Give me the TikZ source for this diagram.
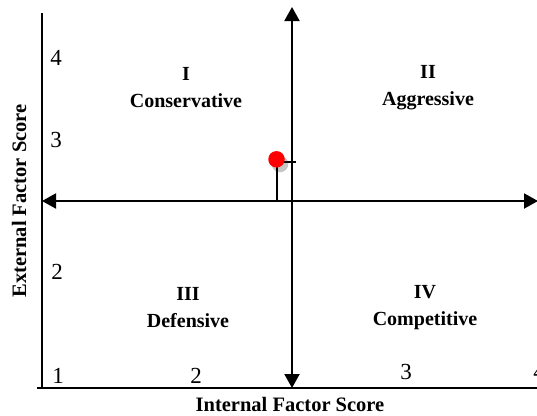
\documentclass[tikz,border=0pt]{standalone}
\usepackage{fontspec}
\setmainfont{Liberation Serif}
\usetikzlibrary{arrows.meta}
\begin{document}
\begin{tikzpicture}[x=1pt,y=-1pt,
  axis/.style={line width=2pt},
  arr/.style={line width=2pt,-{Triangle[length=14pt,width=15pt]}},
  quad/.style={font=\fontsize{20}{27}\selectfont\bfseries,align=center},
  num/.style={font=\fontsize{23}{24}\selectfont},
  ttl/.style={font=\fontsize{20.5}{22}\selectfont\bfseries}]
\useasboundingbox (0,0) rectangle (537,415);
% frame axes
\coordinate (lt) at (42,13);
\coordinate (lb) at (42,389);
\coordinate (bl) at (37,388);
\coordinate (br) at (540,388);
\draw[axis] (lt) -- (lb);
\draw[axis] (bl) -- (br);
% center cross arrows
\coordinate (c) at (292,201);
\coordinate (top) at (292,7);
\coordinate (bot) at (292,388);
\coordinate (left) at (42,201);
\coordinate (right) at (538,201);
\draw[arr] (c) -- (top);
\draw[arr] (c) -- (bot);
\draw[arr] (c) -- (left);
\draw[arr] (c) -- (right);
% point
\coordinate (pbase) at (277,201);
\coordinate (ptick) at (296,162);
\fill[gray!45] (280,164) circle (8.3);
\draw[line width=2pt] (277,160) -- (pbase);
\draw[line width=2pt] (277,162) -- (ptick);
\node[circle,fill=red,minimum size=16.5pt,inner sep=0pt] (pt) at (276.5,159.3) {};
% quadrant labels
\node[quad] (q1) at (186,88) {I\\Conservative};
\node[quad] (q2) at (428,88) {II\\Aggressive};
\node[quad] (q3) at (188,308) {III\\Defensive};
\node[quad] (q4) at (425,308) {IV\\Competitive};
% scale numbers
\node[num] (y4) at (56,58) {4};
\node[num] (y3) at (56,140) {3};
\node[num] (y2) at (57,272) {2};
\node[num] (x1) at (58,376) {1};
\node[num] (x2) at (196,376) {2};
\node[num] (x3) at (406,372) {3};
\node[num] (x4) at (539,372) {4};
% axis titles
\node[ttl] (xt) at (290,404) {Internal Factor Score};
\node[ttl,rotate=90] (yt) at (19,201) {External Factor Score};
\end{tikzpicture}
\end{document}
